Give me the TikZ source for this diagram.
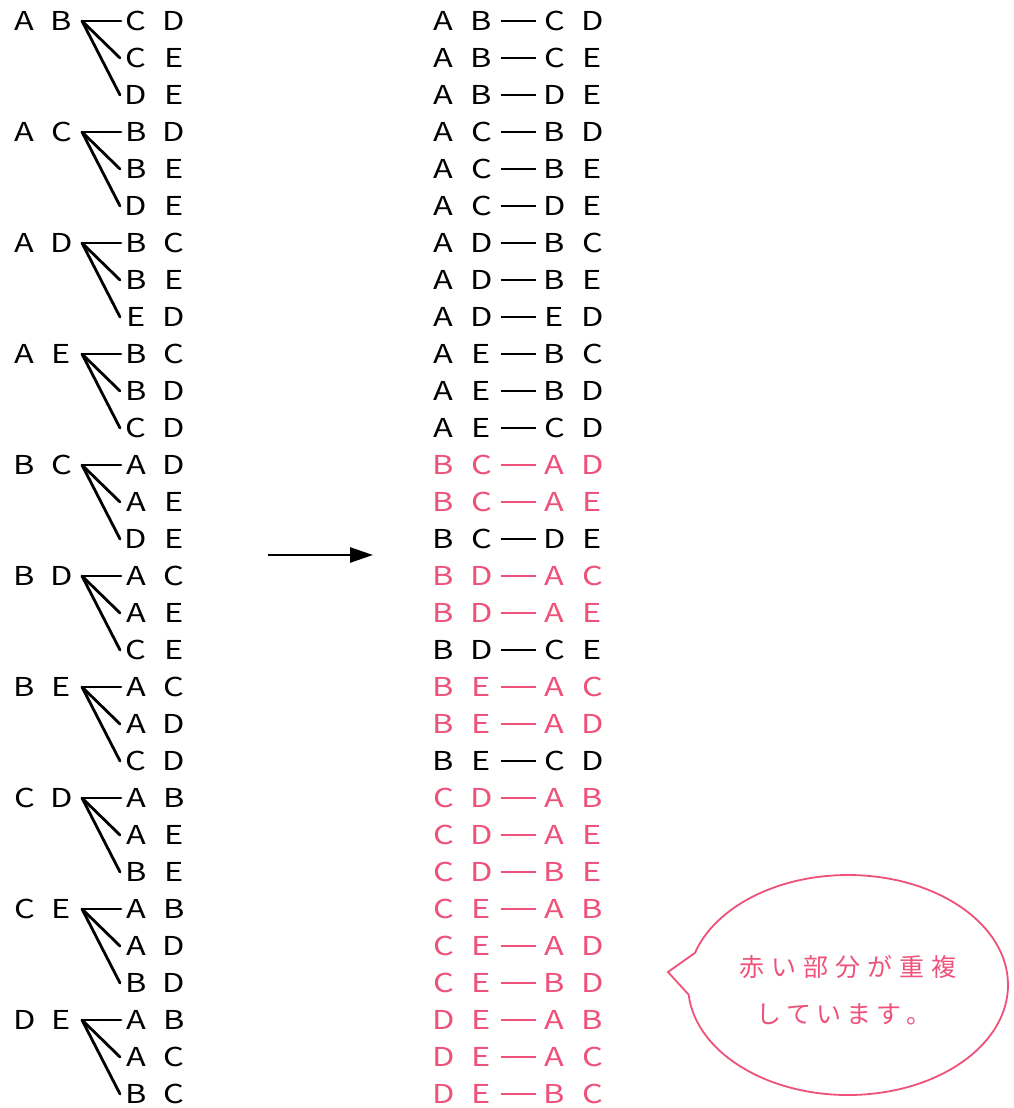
\documentclass[tikz,border=0pt]{standalone}
\usepackage{fontspec}
\setmainfont{Noto Sans CJK JP}
\newfontfamily\latf[FakeStretch=1.25]{Noto Sans CJK JP}
\newfontfamily\jpf{Noto Sans CJK JP}
\usetikzlibrary{arrows.meta,shapes.callouts}
\definecolor{rosa}{RGB}{238,82,122}
\newcommand\pairtxt[3]{\makebox[#1]{#2}\makebox[#1]{#3}}
\newcommand\js{\hspace{7pt}}
\newcommand\jt{\hspace{5pt}}
\tikzset{
  letters/.style={inner sep=0pt, outer sep=0pt, font=\latf\fontsize{26}{26}\selectfont, text height=19pt, text depth=0pt, anchor=center},
  branch/.style={line width=2.8pt, black, line cap=round},
  dashline/.style={line width=2pt},
  jptext/.style={inner sep=0pt, font=\jpf\fontsize{25}{25}\selectfont, text=rosa, text height=21.5pt, text depth=3.5pt, anchor=west},
  bigarrow/.style={line width=2.6pt, -{Triangle[length=23pt,width=15pt]}},
}
\begin{document}
\begin{tikzpicture}[x=1pt,y=-1pt]
\useasboundingbox[fill=white] (0,0) rectangle (1013,1108);
\foreach \p/\q/\a/\b/\c/\d/\e/\f/\ca/\cb/\cc [count=\g from 0] in {
  A/B/C/D/C/E/D/E/black/black/black,
  A/C/B/D/B/E/D/E/black/black/black,
  A/D/B/C/B/E/E/D/black/black/black,
  A/E/B/C/B/D/C/D/black/black/black,
  B/C/A/D/A/E/D/E/rosa/rosa/black,
  B/D/A/C/A/E/C/E/rosa/rosa/black,
  B/E/A/C/A/D/C/D/rosa/rosa/black,
  C/D/A/B/A/E/B/E/rosa/rosa/rosa,
  C/E/A/B/A/D/B/D/rosa/rosa/rosa,
  D/E/A/B/A/C/B/C/rosa/rosa/rosa}
{
  \pgfmathsetmacro\ya{21+111*\g}
  \pgfmathsetmacro\yb{\ya+37}
  \pgfmathsetmacro\yc{\ya+74}
  % left tree
  \node[letters] (L\g) at (43,\ya) {\pairtxt{37pt}{\p}{\q}};
  \coordinate (o\g) at (82,\ya);
  \node[letters] (T\g-a) at (155,\ya) {\pairtxt{38pt}{\a}{\b}};
  \node[letters] (T\g-b) at (155,\yb) {\pairtxt{38pt}{\c}{\d}};
  \node[letters] (T\g-c) at (155,\yc) {\pairtxt{38pt}{\e}{\f}};
  \draw[branch] (o\g) -- ([xshift=4pt]T\g-a.west);
  \draw[branch] (o\g) -- ([xshift=3pt]T\g-b.west);
  \draw[branch] (o\g) -- ([xshift=3pt]T\g-c.west);
  % middle list
  \node[letters, text=\ca] (M\g-a) at (462.5,\ya) {\pairtxt{38pt}{\p}{\q}};
  \node[letters, text=\ca] (N\g-a) at (573.5,\ya) {\pairtxt{38pt}{\a}{\b}};
  \draw[dashline, \ca] (M\g-a.east) -- (N\g-a.west);
  \node[letters, text=\cb] (M\g-b) at (462.5,\yb) {\pairtxt{38pt}{\p}{\q}};
  \node[letters, text=\cb] (N\g-b) at (573.5,\yb) {\pairtxt{38pt}{\c}{\d}};
  \draw[dashline, \cb] (M\g-b.east) -- (N\g-b.west);
  \node[letters, text=\cc] (M\g-c) at (462.5,\yc) {\pairtxt{38pt}{\p}{\q}};
  \node[letters, text=\cc] (N\g-c) at (573.5,\yc) {\pairtxt{38pt}{\e}{\f}};
  \draw[dashline, \cc] (M\g-c.east) -- (N\g-c.west);
}
% arrow
\coordinate (as) at (268,555);
\coordinate (ae) at (373,555);
\draw[bigarrow] (as) -- (ae);
% speech bubble
\node[ellipse callout, draw=rosa, line width=1.8pt, fill=white, minimum width=320pt, minimum height=220pt, inner sep=0pt, callout absolute pointer={(668,972)}, callout pointer arc=22] (bub) at (848,985) {};
\node[jptext] (t1) at (739,967) {赤\js い\js 部\js 分\js が\js 重\js 複};
\node[jptext] (t2) at (756,1014) {し\jt て\jt い\jt ま\jt す\jt 。};
\end{tikzpicture}
\end{document}
